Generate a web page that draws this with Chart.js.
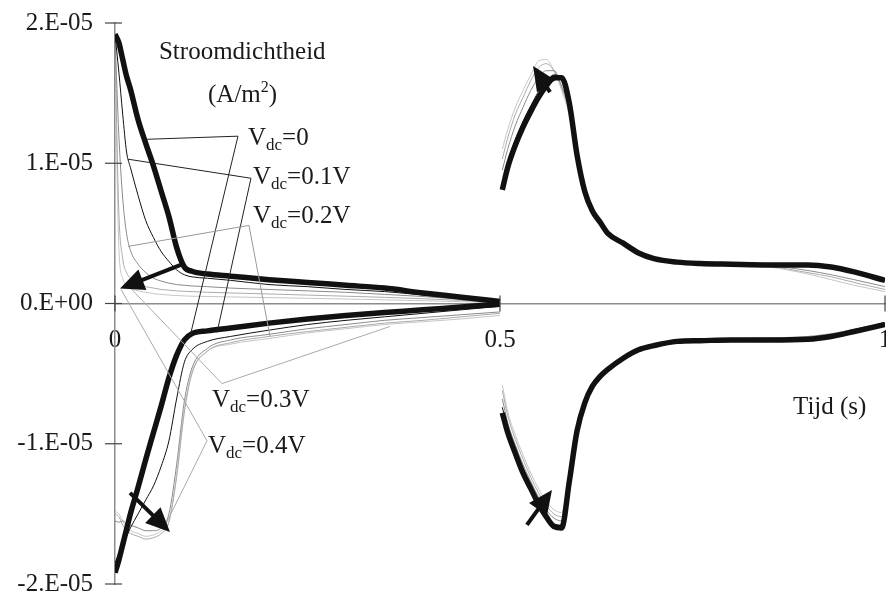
<!DOCTYPE html>
<html lang="nl">
<head>
<meta charset="utf-8">
<title>Stroomdichtheid</title>
<script src="https://cdn.jsdelivr.net/npm/chart.js@4.4.1/dist/chart.umd.min.js"></script>
<style>
  html, body { margin: 0; padding: 0; background: #fff; }
  #wrap { width: 886px; height: 593px; }
</style>
</head>
<body>
<div id="wrap"><canvas id="grafiek" width="886" height="593"></canvas></div>
<script>
// waarden in eenheden van 1E-05 A/m2
const EENHEID = 1e-5;

// tijd (s): eerste halve periode en tweede halve periode
const tijdA = [0, 0.005, 0.01, 0.015, 0.02, 0.03, 0.04, 0.05, 0.06, 0.07, 0.08, 0.09, 0.1, 0.12, 0.15, 0.2, 0.25, 0.3, 0.35, 0.4, 0.45, 0.5];
const tijdB = [0.503, 0.51, 0.52, 0.53, 0.54, 0.55, 0.56, 0.57, 0.58, 0.59, 0.6, 0.61, 0.62, 0.63, 0.64, 0.66, 0.68, 0.7, 0.73, 0.76, 0.8, 0.85, 0.9, 0.93, 0.96, 1.0];

const vdcNamen = ["Vdc=0", "Vdc=0.1V", "Vdc=0.2V", "Vdc=0.3V", "Vdc=0.4V"];
const vdcWaarden = ["0", "0.1V", "0.2V", "0.3V", "0.4V"];

// positieve tak, 0 - 0.5 s (per Vdc)
const positiefA = [
  [1.92, 1.86, 1.74, 1.62, 1.53, 1.31, 1.14, 0.98, 0.80, 0.62, 0.40, 0.26, 0.23, 0.21, 0.195, 0.17, 0.15, 0.13, 0.11, 0.075, 0.045, 0.014],
  [1.92, 1.65, 1.35, 1.08, 0.97, 0.77, 0.59, 0.47, 0.37, 0.30, 0.24, 0.205, 0.19, 0.18, 0.165, 0.135, 0.12, 0.10, 0.085, 0.06, 0.035, 0.008],
  [1.90, 1.20, 0.75, 0.50, 0.38, 0.28, 0.22, 0.18, 0.16, 0.145, 0.135, 0.13, 0.125, 0.12, 0.11, 0.10, 0.09, 0.08, 0.065, 0.05, 0.03, 0.01],
  [1.85, 0.65, 0.32, 0.22, 0.18, 0.14, 0.12, 0.11, 0.10, 0.095, 0.09, 0.087, 0.085, 0.08, 0.075, 0.068, 0.06, 0.052, 0.044, 0.034, 0.022, 0.006],
  [1.80, 0.40, 0.18, 0.13, 0.11, 0.09, 0.08, 0.07, 0.065, 0.06, 0.057, 0.054, 0.052, 0.05, 0.047, 0.042, 0.037, 0.032, 0.026, 0.02, 0.013, 0.004]
];

// negatieve tak, 0 - 0.5 s
const negatiefA = [
  [-1.92, -1.83, -1.72, -1.61, -1.50, -1.31, -1.11, -0.92, -0.73, -0.53, -0.37, -0.26, -0.215, -0.195, -0.175, -0.14, -0.11, -0.085, -0.065, -0.045, -0.025, -0.005],
  [-1.85, -1.78, -1.72, -1.66, -1.60, -1.50, -1.40, -1.30, -1.16, -0.98, -0.68, -0.42, -0.33, -0.27, -0.235, -0.19, -0.15, -0.12, -0.095, -0.07, -0.045, -0.02],
  [-1.55, -1.56, -1.55, -1.57, -1.58, -1.60, -1.62, -1.62, -1.60, -1.50, -1.15, -0.70, -0.46, -0.32, -0.26, -0.22, -0.18, -0.15, -0.12, -0.10, -0.08, -0.06],
  [-1.50, -1.52, -1.58, -1.62, -1.64, -1.66, -1.68, -1.67, -1.64, -1.56, -1.24, -0.78, -0.50, -0.34, -0.28, -0.235, -0.2, -0.17, -0.14, -0.12, -0.095, -0.07],
  [-1.48, -1.50, -1.55, -1.60, -1.62, -1.64, -1.66, -1.65, -1.62, -1.55, -1.22, -0.76, -0.49, -0.34, -0.29, -0.25, -0.21, -0.18, -0.15, -0.13, -0.11, -0.085]
];

// positieve tak, 0.5 - 1 s
const positiefB = [
  [0.81, 0.97, 1.13, 1.26, 1.37, 1.47, 1.55, 1.61, 1.61, 1.43, 1.06, 0.80, 0.66, 0.58, 0.50, 0.43, 0.36, 0.32, 0.295, 0.285, 0.28, 0.275, 0.275, 0.26, 0.225, 0.165],
  [0.85, 1.01, 1.17, 1.30, 1.41, 1.51, 1.58, 1.63, 1.60, 1.42, 1.05, 0.80, 0.66, 0.58, 0.50, 0.43, 0.36, 0.32, 0.295, 0.285, 0.28, 0.275, 0.27, 0.255, 0.22, 0.16],
  [0.95, 1.10, 1.27, 1.40, 1.52, 1.61, 1.66, 1.66, 1.55, 1.38, 1.05, 0.81, 0.67, 0.58, 0.51, 0.43, 0.36, 0.32, 0.295, 0.285, 0.28, 0.27, 0.235, 0.205, 0.17, 0.12],
  [1.03, 1.18, 1.35, 1.47, 1.59, 1.68, 1.71, 1.66, 1.54, 1.36, 1.05, 0.81, 0.67, 0.58, 0.51, 0.43, 0.36, 0.32, 0.295, 0.285, 0.28, 0.265, 0.22, 0.19, 0.15, 0.10],
  [1.10, 1.24, 1.40, 1.52, 1.63, 1.73, 1.74, 1.66, 1.52, 1.34, 1.04, 0.81, 0.67, 0.58, 0.51, 0.43, 0.36, 0.32, 0.295, 0.285, 0.28, 0.26, 0.21, 0.17, 0.13, 0.085]
];

// negatieve tak, 0.5 - 1 s
const negatiefB = [
  [-0.78, -0.92, -1.07, -1.21, -1.32, -1.43, -1.52, -1.59, -1.60, -1.27, -0.91, -0.71, -0.59, -0.52, -0.47, -0.39, -0.33, -0.30, -0.27, -0.265, -0.26, -0.26, -0.255, -0.235, -0.20, -0.15],
  [-0.74, -0.89, -1.04, -1.18, -1.30, -1.41, -1.50, -1.57, -1.58, -1.26, -0.90, -0.71, -0.59, -0.52, -0.47, -0.39, -0.33, -0.30, -0.27, -0.265, -0.26, -0.26, -0.25, -0.23, -0.195, -0.145],
  [-0.68, -0.85, -1.01, -1.15, -1.27, -1.38, -1.47, -1.53, -1.55, -1.25, -0.90, -0.70, -0.58, -0.51, -0.46, -0.38, -0.32, -0.29, -0.265, -0.26, -0.255, -0.25, -0.24, -0.22, -0.19, -0.14],
  [-0.62, -0.80, -0.97, -1.11, -1.24, -1.35, -1.44, -1.50, -1.52, -1.24, -0.89, -0.70, -0.58, -0.51, -0.46, -0.38, -0.32, -0.29, -0.265, -0.255, -0.25, -0.245, -0.235, -0.215, -0.185, -0.135],
  [-0.58, -0.77, -0.94, -1.08, -1.21, -1.32, -1.41, -1.47, -1.49, -1.22, -0.88, -0.70, -0.58, -0.51, -0.46, -0.38, -0.32, -0.29, -0.265, -0.255, -0.25, -0.245, -0.235, -0.215, -0.185, -0.135]
];

// lijnstijl per Vdc
const lijnKleur = ["#111111", "#111111", "#8a8a8a", "#ababab", "#c6c6c6"];
const lijnDikte = [5.5, 1, 1, 1, 1];

// verwijslijnen van label naar curve (tijd, waarde in 1E-05)
const verwijzers = [
  { kleur: "#222", punten: [[0.0416, 1.171], [0.1597, 1.193], [0.0974, -0.236]] },
  { kleur: "#222", punten: [[0.0169, 1.029], [0.1766, 0.893], [0.1325, -0.207]] },
  { kleur: "#999", punten: [[0.0169, 0.407], [0.174, 0.557], [0.2013, -0.236]] },
  { kleur: "#aaa", punten: [[0.0143, 0.143], [0.139, -0.571], [0.357, -0.164]] },
  { kleur: "#aaa", punten: [[0.0078, 0.1], [0.1195, -0.979], [0.0623, -1.614]] }
];
// label posities (tijd, waarde in 1E-05), linkerkant / basislijn
const labelPos = [[0.1727, 1.129], [0.1792, 0.85], [0.1792, 0.571], [0.126, -0.736], [0.1208, -1.064]];

// pijlen: [staart, punt]
const pijlen = [
  [[0.087, 0.279], [0.0065, 0.107]],
  [[0.0195, -1.35], [0.0714, -1.629]],
  [[0.565, 1.507], [0.543, 1.693]],
  [[0.535, -1.579], [0.5675, -1.329]]
];

const FONT = '"Liberation Serif", "Times New Roman", serif';

// reeks opbouwen: eerste helft, onderbreking, tweede helft
function maakReeks(waardenA, waardenB) {
  const a = tijdA.map((t, i) => ({ x: t, y: waardenA[i] * EENHEID }));
  const b = tijdB.map((t, i) => ({ x: t, y: waardenB[i] * EENHEID }));
  return a.concat([{ x: 0.5, y: null }], b);
}

const datasets = [];
vdcNamen.forEach((naam, k) => {
  [[positiefA, positiefB], [negatiefA, negatiefB]].forEach(([A, B]) => {
    datasets.push({
      label: naam,
      data: maakReeks(A[k], B[k]),
      borderColor: lijnKleur[k],
      borderWidth: lijnDikte[k],
      pointRadius: 0,
      cubicInterpolationMode: "monotone",
      spanGaps: false,
      borderJoinStyle: "round",
      borderCapStyle: "butt",
      fill: false,
    });
  });
});

function pijl(ctx, x1, y1, x2, y2) {
  const hoek = Math.atan2(y2 - y1, x2 - x1);
  const L = 24, W = 11;
  const bx = x2 - L * Math.cos(hoek);
  const by = y2 - L * Math.sin(hoek);
  ctx.beginPath();
  ctx.moveTo(x1, y1);
  ctx.lineTo(bx + Math.cos(hoek) * 2, by + Math.sin(hoek) * 2);
  ctx.lineWidth = 4;
  ctx.stroke();
  ctx.beginPath();
  ctx.moveTo(x2, y2);
  ctx.lineTo(bx - W * Math.sin(hoek), by + W * Math.cos(hoek));
  ctx.lineTo(bx + W * Math.sin(hoek), by - W * Math.cos(hoek));
  ctx.closePath();
  ctx.fill();
}

function vdcTekst(ctx, x, y, waarde) {
  ctx.font = "25px " + FONT;
  ctx.fillText("V", x, y);
  let dx = ctx.measureText("V").width;
  ctx.font = "17px " + FONT;
  ctx.fillText("dc", x + dx, y + 5);
  dx += ctx.measureText("dc").width;
  ctx.font = "25px " + FONT;
  ctx.fillText("=" + waarde, x + dx, y);
}

const annotaties = {
  id: "annotaties",
  afterDatasetsDraw(chart) {
    const { ctx, scales } = chart;
    const px = (t) => scales.x.getPixelForValue(t);
    const py = (v) => scales.y.getPixelForValue(v * EENHEID);
    ctx.save();

    // maatstreepjes over de assen heen
    ctx.strokeStyle = "#444";
    ctx.lineWidth = 1.2;
    const x0 = px(0), y0 = py(0);
    [-2, -1, 0, 1, 2].forEach((v) => {
      ctx.beginPath();
      ctx.moveTo(x0 - 10, py(v));
      ctx.lineTo(x0 + 7, py(v));
      ctx.stroke();
    });
    [0, 0.5, 1].forEach((t) => {
      ctx.beginPath();
      ctx.moveTo(px(t), y0 - 8);
      ctx.lineTo(px(t), y0 + 8);
      ctx.stroke();
    });

    // verwijslijnen
    ctx.lineWidth = 1;
    verwijzers.forEach((v) => {
      ctx.strokeStyle = v.kleur;
      ctx.beginPath();
      v.punten.forEach(([t, w], i) => {
        if (i === 0) ctx.moveTo(px(t), py(w));
        else ctx.lineTo(px(t), py(w));
      });
      ctx.stroke();
    });

    // pijlen
    ctx.strokeStyle = "#111";
    ctx.fillStyle = "#111";
    pijlen.forEach(([s, p]) => pijl(ctx, px(s[0]), py(s[1]), px(p[0]), py(p[1])));

    // teksten
    ctx.fillStyle = "#1a1a1a";
    ctx.textBaseline = "alphabetic";
    ctx.textAlign = "left";
    labelPos.forEach(([t, w], k) => vdcTekst(ctx, px(t), py(w), vdcWaarden[k]));

    ctx.font = "25px " + FONT;
    ctx.fillText("Stroomdichtheid", px(0.0571), py(1.743));
    const ax = px(0.1208), ay = py(1.436);
    ctx.fillText("(A/m", ax, ay);
    let w = ctx.measureText("(A/m").width;
    ctx.font = "16px " + FONT;
    ctx.fillText("2", ax + w, ay - 10);
    w += ctx.measureText("2").width;
    ctx.font = "25px " + FONT;
    ctx.fillText(")", ax + w, ay);
    ctx.fillText("Tijd (s)", px(0.8805), py(-0.786));

    ctx.restore();
  },
};

new Chart(document.getElementById("grafiek"), {
  type: "line",
  data: { datasets },
  options: {
    responsive: false,
    animation: false,
    layout: { padding: { left: 0, right: 1, top: 23, bottom: 9 } },
    plugins: {
      legend: { display: false },
      tooltip: { enabled: false },
    },
    scales: {
      x: {
        type: "linear",
        position: "center",
        min: 0,
        max: 1,
        border: { display: true, color: "#8c8c8c", width: 1.5 },
        grid: { display: true, drawOnChartArea: false, drawTicks: false },
        ticks: {
          stepSize: 0.5,
          padding: 22,
          color: "#1a1a1a",
          font: { family: FONT, size: 25 },
          maxRotation: 0,
          callback: (v) => String(v),
        },
        afterFit: (s) => { s.paddingLeft = 0; s.paddingRight = 0; },
      },
      y: {
        type: "linear",
        position: "left",
        min: -2 * EENHEID,
        max: 2 * EENHEID,
        border: { display: true, color: "#8c8c8c", width: 1.5 },
        grid: { display: true, drawOnChartArea: false, drawTicks: false },
        ticks: {
          stepSize: EENHEID,
          padding: 22,
          color: "#1a1a1a",
          font: { family: FONT, size: 25 },
          callback: (v) => {
            const m = Math.round(v / EENHEID);
            return m === 0 ? "0.E+00" : m + ".E-05";
          },
        },
        afterFit: (s) => { s.width = 115; s.paddingTop = 0; s.paddingBottom = 0; },
      },
    },
  },
  plugins: [annotaties],
});
</script>
</body>
</html>
